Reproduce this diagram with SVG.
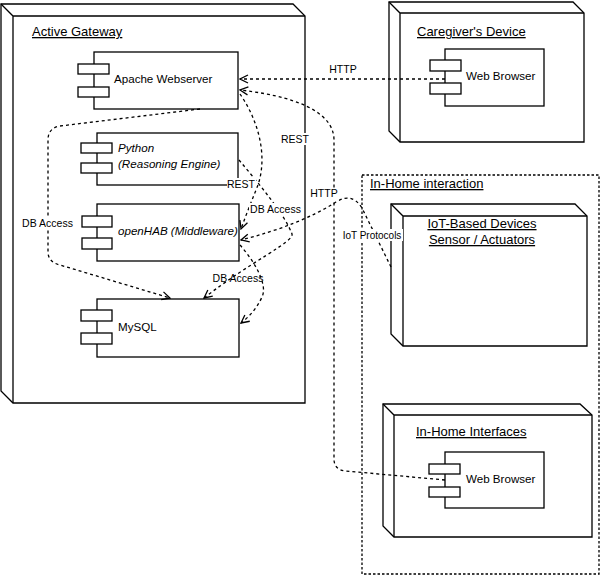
<svg xmlns="http://www.w3.org/2000/svg" width="601" height="576" viewBox="0 0 601 576">
<defs>
<style>
.n{fill:#fff;stroke:#000;stroke-width:1.3}
.ln{fill:none;stroke:#000;stroke-width:1.3}
.c{fill:none;stroke:#000;stroke-width:1.3;stroke-dasharray:3 3}
.fr{fill:none;stroke:#000;stroke-width:1.3;stroke-dasharray:2.5 2}
.t{font-family:"Liberation Sans",Arial,Helvetica,sans-serif;font-size:11.6px;fill:#000}
.i{font-style:italic}
.h{font-family:"Liberation Sans",Arial,Helvetica,sans-serif;font-size:13px;fill:#000;text-decoration:underline}
.l{font-family:"Liberation Sans",Arial,Helvetica,sans-serif;font-size:10.5px;fill:#000;text-anchor:middle}
.bg{fill:#fff;stroke:none}
</style>
<marker id="a" viewBox="0 0 10 10" refX="9" refY="5" markerWidth="10" markerHeight="10" markerUnits="userSpaceOnUse" orient="auto">
<path d="M1,1 L9,5 L1,9" fill="none" stroke="#000" stroke-width="1.3"/>
</marker>
</defs>

<g id="in-home-interaction">
<rect class="fr" x="362" y="175" width="237" height="399"/>
<text class="h" x="370" y="188">In-Home interaction</text>
</g>

<g id="active-gateway">
<path class="n" d="M1 4 L293 4 L305 16 L305 403 L13 403 L1 391 Z"/>
<path class="ln" d="M1 4 L13 16 L305 16 M13 16 L13 403"/>
<text class="h" x="32" y="36">Active Gateway</text>
</g>

<g id="apache">
<rect class="n" x="94" y="52" width="144" height="57"/>
<rect class="n" x="78" y="64" width="31" height="10"/>
<rect class="n" x="78" y="87" width="31" height="10"/>
<text class="t" x="114" y="83">Apache Webserver</text>
</g>

<g id="python">
<rect class="n" x="97" y="133" width="141" height="52"/>
<rect class="n" x="81" y="143" width="31" height="10"/>
<rect class="n" x="81" y="163" width="31" height="10"/>
<text class="t i" x="118" y="152">Python</text>
<text class="t i" x="118" y="168">(Reasoning Engine)</text>
</g>

<g id="openhab">
<rect class="n" x="97" y="204" width="142" height="57"/>
<rect class="n" x="82" y="216" width="30" height="11"/>
<rect class="n" x="82" y="238" width="30" height="11"/>
<text class="t i" x="118" y="235">openHAB (Middleware)</text>
</g>

<g id="mysql">
<rect class="n" x="97" y="299" width="142" height="58"/>
<rect class="n" x="81" y="310" width="31" height="11"/>
<rect class="n" x="81" y="333" width="31" height="11"/>
<text class="t" x="118" y="331">MySQL</text>
</g>

<g id="caregiver-device">
<path class="n" d="M389 2 L573 2 L584 13 L584 142 L400 142 L389 131 Z"/>
<path class="ln" d="M389 2 L400 13 L584 13 M400 13 L400 142"/>
<text class="h" x="417" y="36">Caregiver's Device</text>
</g>

<g id="caregiver-browser">
<rect class="n" x="445" y="49" width="99" height="57"/>
<rect class="n" x="430" y="60" width="31" height="11"/>
<rect class="n" x="430" y="83" width="31" height="11"/>
<text class="t" x="466" y="80">Web Browser</text>
</g>

<g id="iot-devices">
<path class="n" d="M391 204 L575 204 L587 216 L587 346 L403 346 L391 334 Z"/>
<path class="ln" d="M391 204 L403 216 L587 216 M403 216 L403 346"/>
<text class="h" x="482" y="228" text-anchor="middle">IoT-Based Devices</text>
<text class="h" x="482" y="244" text-anchor="middle">Sensor / Actuators</text>
</g>

<g id="in-home-interfaces">
<path class="n" d="M383 404 L580 404 L592 415 L592 537 L394 537 L383 526 Z"/>
<path class="ln" d="M383 404 L394 415 L592 415 M394 415 L394 537"/>
<text class="h" x="416" y="436">In-Home Interfaces</text>
</g>

<g id="in-home-browser">
<rect class="n" x="445" y="452" width="99" height="56"/>
<rect class="n" x="429" y="464" width="31" height="10"/>
<rect class="n" x="429" y="487" width="31" height="10"/>
<text class="t" x="466" y="483">Web Browser</text>
</g>

<g id="connectors">
<path class="c" d="M445 79 L240 79" marker-end="url(#a)"/>
<path class="c" d="M445 480 L346 471 Q334 470 334 459 L334 140 C334 118 310 98 240 90" marker-end="url(#a)"/>
<path class="c" d="M240 94 C258 120 268 155 258 185 C252 200 246 215 241 229" marker-end="url(#a)"/>
<path class="c" d="M239 160 C260 185 285 215 292 234 C294 242 250 262 204 298" marker-end="url(#a)"/>
<path class="c" d="M240 245 C255 262 268 285 262 297 C257 308 250 316 241 323" marker-end="url(#a)"/>
<path class="c" d="M200 109 L60 126 Q48 128 48 140 L48 252 Q48 262 60 265 L170 298" marker-end="url(#a)"/>
<path class="c" d="M391 267 L362 208 Q352 192 336 202 Q300 225 241 240" marker-end="url(#a)"/>

<text class="l" x="343" y="73">HTTP</text>
<rect class="bg" x="309" y="188" width="30" height="12"/>
<text class="l" x="324" y="197">HTTP</text>
<rect class="bg" x="227" y="178" width="29" height="12"/>
<text class="l" x="241" y="188">REST</text>
<rect class="bg" x="281" y="133" width="29" height="12"/>
<text class="l" x="295" y="143">REST</text>
<rect class="bg" x="249" y="203" width="53" height="12"/>
<text class="l" x="275.5" y="213">DB Access</text>
<text class="l" x="238" y="282">DB Access</text>
<rect class="bg" x="20" y="217" width="55" height="12"/>
<text class="l" x="47.5" y="227">DB Access</text>
<rect class="bg" x="341" y="229" width="62" height="12"/>
<text class="l" x="372" y="239" style="font-size:10px">IoT Protocols</text>
</g>
</svg>
